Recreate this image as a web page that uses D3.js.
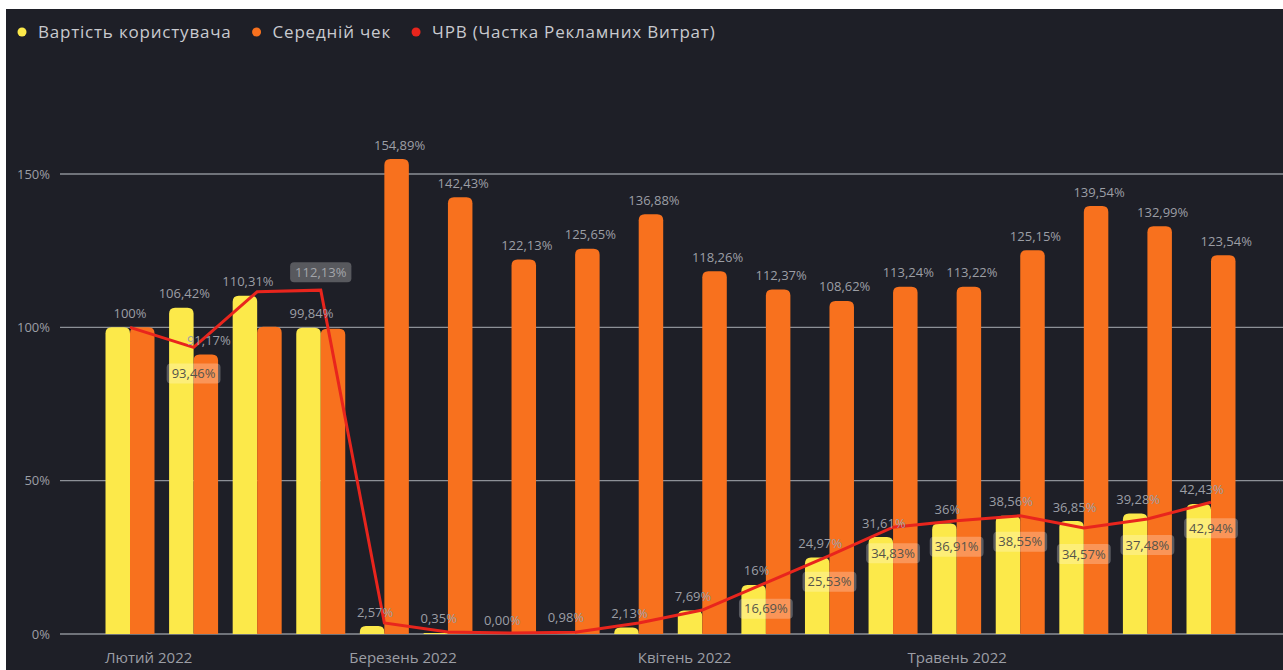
<!DOCTYPE html>
<html>
<head>
<meta charset="utf-8">
<script src="https://cdn.jsdelivr.net/npm/d3@7"></script>
<style>
  html, body { margin: 0; padding: 0; background: #fff; }
  svg { display: block; font-family: "Open Sans", sans-serif; }
</style>
</head>
<body>
<svg id="chart" width="1283" height="670"></svg>
<script>
// weekly data (week start dates)
var weeks = ["2022-01-30", "2022-02-06", "2022-02-13", "2022-02-20", "2022-02-27", "2022-03-06",
  "2022-03-13", "2022-03-20", "2022-03-27", "2022-04-03", "2022-04-10", "2022-04-17",
  "2022-04-24", "2022-05-01", "2022-05-08", "2022-05-15", "2022-05-22", "2022-05-29"];
var userCost = [100, 106.42, 110.31, 99.84, 2.57, 0.35, 0.004, 0.98, 2.13, 7.69, 16, 24.97,
  31.61, 36, 38.56, 36.85, 39.28, 42.43];
var avgCheck = [100, 91.17, 100.2, 99.5, 154.89, 142.43, 122.13, 125.65, 136.88, 118.26, 112.37,
  108.62, 113.24, 113.22, 125.15, 139.54, 132.99, 123.54];
var adShare = [100, 93.46, 111.6, 112.13, 3.6, 0.65, 0.3, 0.6, 3.6, 7.8, 16.69, 25.53,
  34.83, 36.91, 38.55, 34.57, 37.48, 42.94];
var yTicks = [0, 50, 100, 150];
var monthNames = ["Січень", "Лютий", "Березень", "Квітень", "Травень", "Червень"];
var seriesNames = ["Вартість користувача", "Середній чек", "ЧРВ (Частка Рекламних Витрат)"];
// labels the original chart hides because they collide
var hiddenAvg = [0, 2, 3];
var hiddenAd = [0, 2, 4, 5, 6, 7, 8, 9];
var adLabelAbove = [3];

var W = 1283, H = 670;
var colors = ["#fce94a", "#f8711e", "#e8251d"];
var labelColor = "#9c9ea5";

var dates = weeks.map(d3.timeParse("%Y-%m-%d"));
var svg = d3.select("#chart");

svg.append("rect")
  .attr("x", 6).attr("y", 9)
  .attr("width", W - 6).attr("height", H - 9)
  .attr("fill", "#1e1f27");

var x = d3.scaleTime().domain(d3.extent(dates)).range([130, 1211]);
var y = d3.scaleLinear().domain([0, 150]).range([634, 174]);
var barW = 24.5;

function fmt(v) {
  if (Number.isInteger(v)) return v + "%";
  return v.toFixed(2).replace(".", ",") + "%";
}

function topRounded(x0, y0, w, h, r) {
  r = Math.min(r, h, w / 2);
  return "M" + x0 + "," + (y0 + h) + "V" + (y0 + r) +
    "Q" + x0 + "," + y0 + " " + (x0 + r) + "," + y0 +
    "H" + (x0 + w - r) +
    "Q" + (x0 + w) + "," + y0 + " " + (x0 + w) + "," + (y0 + r) +
    "V" + (y0 + h) + "Z";
}

// grid + y labels
svg.append("g").selectAll("line")
  .data(yTicks).enter().append("line")
  .attr("x1", 60).attr("x2", W)
  .attr("y1", function(d){ return y(d); })
  .attr("y2", function(d){ return y(d); })
  .attr("stroke", "#8d9097").attr("stroke-width", 1.3);

svg.append("g").selectAll("text")
  .data(yTicks).enter().append("text")
  .attr("x", 50).attr("y", function(d){ return y(d); })
  .attr("dy", "0.35em").attr("text-anchor", "end")
  .attr("fill", labelColor).attr("font-size", 13)
  .text(function(d){ return d + "%"; });

// x axis (month labels)
var xAxis = d3.axisBottom(x)
  .ticks(d3.timeMonth.every(1))
  .tickSize(0)
  .tickFormat(function(d){ return monthNames[d.getMonth()] + " " + d.getFullYear(); });
var gx = svg.append("g").attr("transform", "translate(0," + y(0) + ")").call(xAxis);
gx.select(".domain").remove();
gx.selectAll("text")
  .attr("y", 24).attr("dy", "0.35em")
  .attr("fill", labelColor).attr("font-size", 15)
  .attr("font-family", "Open Sans, sans-serif");

// bars
svg.append("g").selectAll("path")
  .data(userCost).enter().append("path")
  .attr("fill", colors[0])
  .attr("d", function(d, i){
    var cx = x(dates[i]);
    return topRounded(cx - barW, y(d), barW, y(0) - y(d), 6);
  });

svg.append("g").selectAll("path")
  .data(avgCheck).enter().append("path")
  .attr("fill", colors[1])
  .attr("d", function(d, i){
    var cx = x(dates[i]);
    return topRounded(cx, y(d), barW, y(0) - y(d), 6);
  });

// line
var line = d3.line()
  .x(function(d, i){ return x(dates[i]); })
  .y(function(d){ return y(d); });
svg.append("path")
  .datum(adShare)
  .attr("d", line)
  .attr("fill", "none")
  .attr("stroke", colors[2])
  .attr("stroke-width", 3)
  .attr("stroke-linejoin", "miter");

// bar value labels
var lbl = svg.append("g").attr("font-size", 13).attr("fill", labelColor).attr("text-anchor", "middle");
userCost.forEach(function(v, i){
  var cx = x(dates[i]);
  var same = v === avgCheck[i];
  lbl.append("text")
    .attr("x", same ? cx : cx - barW / 2 + 3)
    .attr("y", y(v) - 14)
    .attr("dy", "0.35em")
    .text(fmt(v));
});
avgCheck.forEach(function(v, i){
  if (hiddenAvg.indexOf(i) >= 0) return;
  var cx = x(dates[i]);
  lbl.append("text")
    .attr("x", cx + barW / 2 + 3)
    .attr("y", y(v) - 14)
    .attr("dy", "0.35em")
    .text(fmt(v));
});

// line labels in boxes
var boxes = svg.append("g");
adShare.forEach(function(v, i){
  if (hiddenAd.indexOf(i) >= 0) return;
  var cx = x(dates[i]);
  var above = adLabelAbove.indexOf(i) >= 0;
  var cy = above ? y(v) - 18 : y(v) + 26;
  var overBg = cy + 10 < y(Math.max(userCost[i], avgCheck[i]));
  var g = boxes.append("g");
  var r = g.append("rect").attr("fill", "rgba(255,255,255,0.26)").attr("rx", 4);
  var t = g.append("text")
    .attr("x", cx).attr("y", cy).attr("dy", "0.35em")
    .attr("text-anchor", "middle").attr("font-size", 13)
    .attr("fill", overBg ? "#a3a5aa" : "#55544a")
    .text(fmt(v));
  var tw = t.node().getComputedTextLength();
  r.attr("x", cx - tw / 2 - 5).attr("y", cy - 10)
    .attr("width", tw + 10).attr("height", 20);
});

// legend
var legend = svg.append("g").attr("transform", "translate(22,32)");
var lx = 0;
seriesNames.forEach(function(name, i){
  legend.append("circle").attr("cx", lx).attr("cy", 0).attr("r", 4.5).attr("fill", colors[i]);
  var t = legend.append("text")
    .attr("x", lx + 16).attr("y", 0).attr("dy", "0.35em")
    .attr("font-size", 17).attr("letter-spacing", 0.8).attr("fill", "#c9cacf")
    .text(name);
  lx += 16 + t.node().getComputedTextLength() + 25;
});
</script>
</body>
</html>
